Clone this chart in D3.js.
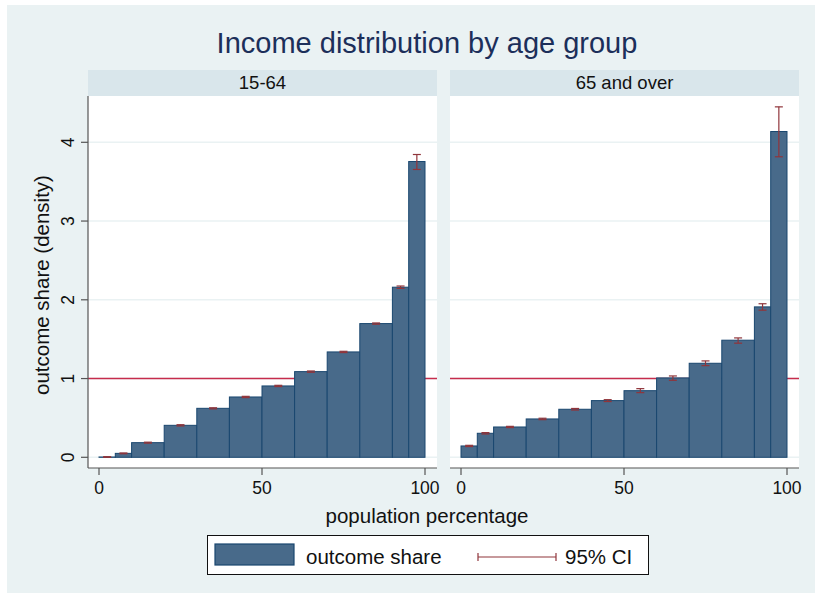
<!DOCTYPE html>
<html>
<head>
<meta charset="utf-8">
<script src="https://cdn.jsdelivr.net/npm/d3@7"></script>
<style>
  body { margin: 0; background: #ffffff; }
  text { font-family: "Liberation Sans", Arial, Helvetica, sans-serif; }
</style>
</head>
<body>
<div id="chart"></div>
<script>
// bin edges (population percentage)
var binEdges = [0, 5, 10, 20, 30, 40, 50, 60, 70, 80, 90, 95, 100];

// 15-64 group
var share1564 = [0.004, 0.05, 0.186, 0.406, 0.622, 0.766, 0.906, 1.088, 1.338, 1.698, 2.16, 3.756];
var lo1564 = [0.0, 0.045, 0.18, 0.398, 0.615, 0.758, 0.898, 1.08, 1.33, 1.69, 2.145, 3.655];
var hi1564 = [0.008, 0.055, 0.192, 0.414, 0.629, 0.774, 0.914, 1.096, 1.346, 1.706, 2.175, 3.845];

// 65 and over group
var share65 = [0.144, 0.305, 0.385, 0.487, 0.61, 0.72, 0.846, 1.008, 1.194, 1.487, 1.91, 4.137];
var lo65 = [0.136, 0.296, 0.377, 0.478, 0.6, 0.708, 0.821, 0.978, 1.164, 1.449, 1.868, 3.816];
var hi65 = [0.152, 0.314, 0.393, 0.496, 0.62, 0.732, 0.872, 1.033, 1.224, 1.516, 1.95, 4.45];

var panelNames = ["15-64", "65 and over"];
var xTicks = [0, 50, 100];
var yTicks = [0, 1, 2, 3, 4];
var refLine = 1;

var width = 822;
var height = 599;

var barFill = "#486a8a";
var barStroke = "#1a476f";
var ciColor = "#90353b";
var refColor = "#c62c4c";
var gridColor = "#eaf2f3";
var axisColor = "#555555";

var svg = d3
  .select("#chart")
  .append("svg")
  .attr("width", width)
  .attr("height", height);

// graph region
svg
  .append("rect")
  .attr("x", 7)
  .attr("y", 5)
  .attr("width", 808)
  .attr("height", 588)
  .attr("fill", "#eaf2f3");

svg
  .append("text")
  .attr("x", 427)
  .attr("y", 53)
  .attr("text-anchor", "middle")
  .attr("fill", "#1c2f5a")
  .style("font-size", "29px")
  .text("Income distribution by age group");

var plotTop = 96;
var plotBottom = 468;
var plotW = 349;

var y = d3.scaleLinear().domain([0, 4]).range([457.3, 142.3]);

function makePanel(left, name, share, lo, hi, showY) {
  var g = svg.append("g");

  var x = d3
    .scaleLinear()
    .domain([0, 100])
    .range([left + 11, left + plotW - 12]);

  // header strip
  g.append("rect")
    .attr("x", left)
    .attr("y", 70)
    .attr("width", plotW)
    .attr("height", 26)
    .attr("fill", "#d9e6eb");

  g.append("text")
    .attr("x", left + plotW / 2)
    .attr("y", 89)
    .attr("text-anchor", "middle")
    .attr("fill", "#111")
    .style("font-size", "18.5px")
    .text(name);

  // plot region
  g.append("rect")
    .attr("x", left)
    .attr("y", plotTop)
    .attr("width", plotW)
    .attr("height", plotBottom - plotTop)
    .attr("fill", "#ffffff");

  // gridlines
  g.selectAll("line.grid")
    .data(yTicks)
    .join("line")
    .attr("class", "grid")
    .attr("x1", left)
    .attr("x2", left + plotW)
    .attr("y1", (d) => y(d))
    .attr("y2", (d) => y(d))
    .attr("stroke", gridColor)
    .attr("stroke-width", 1.5);

  // reference line at 1
  g.append("line")
    .attr("x1", left)
    .attr("x2", left + plotW)
    .attr("y1", y(refLine))
    .attr("y2", y(refLine))
    .attr("stroke", refColor)
    .attr("stroke-width", 1.4);

  // bars
  g.selectAll("rect.bar")
    .data(share)
    .join("rect")
    .attr("class", "bar")
    .attr("x", (d, i) => x(binEdges[i]))
    .attr("width", (d, i) => x(binEdges[i + 1]) - x(binEdges[i]))
    .attr("y", (d) => y(d))
    .attr("height", (d) => y(0) - y(d))
    .attr("fill", barFill)
    .attr("stroke", barStroke)
    .attr("stroke-width", 1);

  // confidence intervals
  var ci = g.append("g").attr("stroke", ciColor).attr("stroke-width", 1.2);
  share.forEach(function (d, i) {
    var cx = x((binEdges[i] + binEdges[i + 1]) / 2);
    ci.append("line")
      .attr("x1", cx).attr("x2", cx)
      .attr("y1", y(lo[i])).attr("y2", y(hi[i]));
    ci.append("line")
      .attr("x1", cx - 4).attr("x2", cx + 4)
      .attr("y1", y(lo[i])).attr("y2", y(lo[i]));
    ci.append("line")
      .attr("x1", cx - 4).attr("x2", cx + 4)
      .attr("y1", y(hi[i])).attr("y2", y(hi[i]));
  });

  // x axis
  var xAxis = g.append("g").attr("transform", `translate(0,${plotBottom})`);
  xAxis.append("line")
    .attr("x1", left)
    .attr("x2", left + plotW)
    .attr("stroke", axisColor)
    .attr("stroke-width", 1.2);
  xAxis.selectAll("line.tick")
    .data(xTicks)
    .join("line")
    .attr("class", "tick")
    .attr("x1", (d) => x(d))
    .attr("x2", (d) => x(d))
    .attr("y1", 0)
    .attr("y2", 7)
    .attr("stroke", axisColor)
    .attr("stroke-width", 1.2);
  xAxis.selectAll("text")
    .data(xTicks)
    .join("text")
    .attr("x", (d) => x(d))
    .attr("y", 26)
    .attr("text-anchor", "middle")
    .attr("fill", "#111")
    .style("font-size", "17.5px")
    .text((d) => d);

  if (showY) {
    var yAxis = g.append("g").attr("transform", `translate(${left},0)`);
    yAxis.append("line")
      .attr("y1", plotTop)
      .attr("y2", plotBottom)
      .attr("stroke", axisColor)
      .attr("stroke-width", 1.2);
    yAxis.selectAll("line.tick")
      .data(yTicks)
      .join("line")
      .attr("class", "tick")
      .attr("x1", -7)
      .attr("x2", 0)
      .attr("y1", (d) => y(d))
      .attr("y2", (d) => y(d))
      .attr("stroke", axisColor)
      .attr("stroke-width", 1.2);
    yAxis.selectAll("text")
      .data(yTicks)
      .join("text")
      .attr("transform", (d) => `translate(-14,${y(d)}) rotate(-90)`)
      .attr("text-anchor", "middle")
      .attr("fill", "#111")
      .style("font-size", "17.5px")
      .text((d) => d);
  }
}

makePanel(88, panelNames[0], share1564, lo1564, hi1564, true);
makePanel(450, panelNames[1], share65, lo65, hi65, false);

// axis titles
svg
  .append("text")
  .attr("transform", "translate(49,285) rotate(-90)")
  .attr("text-anchor", "middle")
  .attr("fill", "#111")
  .style("font-size", "20.5px")
  .text("outcome share (density)");

svg
  .append("text")
  .attr("x", 427)
  .attr("y", 523)
  .attr("text-anchor", "middle")
  .attr("fill", "#111")
  .style("font-size", "20.5px")
  .text("population percentage");

// legend
var legend = svg.append("g");
legend.append("rect")
  .attr("x", 207.5)
  .attr("y", 535.5)
  .attr("width", 441)
  .attr("height", 39)
  .attr("fill", "#ffffff")
  .attr("stroke", "#111")
  .attr("stroke-width", 1);
legend.append("rect")
  .attr("x", 215)
  .attr("y", 544)
  .attr("width", 79)
  .attr("height", 21)
  .attr("fill", barFill)
  .attr("stroke", barStroke)
  .attr("stroke-width", 1.2);
legend.append("text")
  .attr("x", 306)
  .attr("y", 564)
  .attr("fill", "#111")
  .style("font-size", "20.5px")
  .text("outcome share");
legend.append("line")
  .attr("x1", 478).attr("x2", 556)
  .attr("y1", 557).attr("y2", 557)
  .attr("stroke", ciColor).attr("stroke-width", 1.2);
legend.append("line")
  .attr("x1", 478).attr("x2", 478)
  .attr("y1", 553).attr("y2", 561)
  .attr("stroke", ciColor).attr("stroke-width", 1.2);
legend.append("line")
  .attr("x1", 556).attr("x2", 556)
  .attr("y1", 553).attr("y2", 561)
  .attr("stroke", ciColor).attr("stroke-width", 1.2);
legend.append("text")
  .attr("x", 565)
  .attr("y", 564)
  .attr("fill", "#111")
  .style("font-size", "20.5px")
  .text("95% CI");
</script>
</body>
</html>
